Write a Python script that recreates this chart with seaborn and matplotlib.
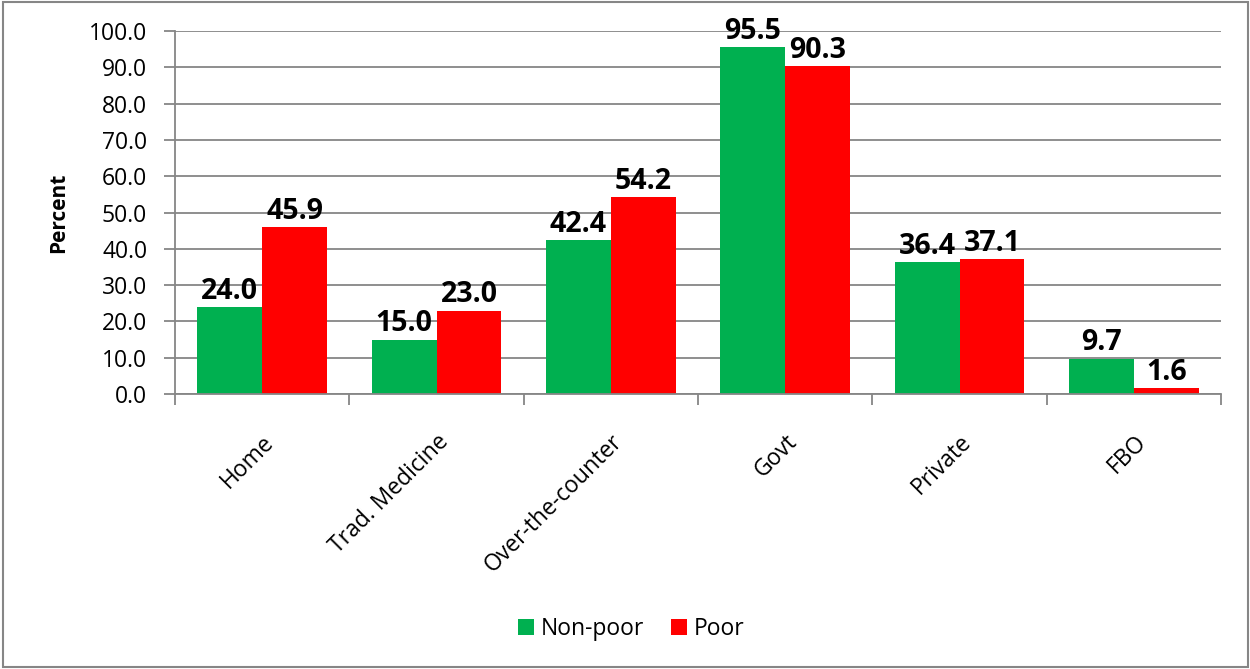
import matplotlib
matplotlib.use("Agg")
import matplotlib.pyplot as plt
import seaborn as sns
import pandas as pd
from matplotlib.patches import Rectangle

categories = ["Home", "Trad. Medicine", "Over-the-counter", "Govt", "Private", "FBO"]
non_poor = [24.0, 15.0, 42.4, 95.5, 36.4, 9.7]
poor = [45.9, 23.0, 54.2, 90.3, 37.1, 1.6]
series = ["Non-poor", "Poor"]
colors = ["#00B050", "#FF0000"]

df = pd.DataFrame({
    "Category": categories * 2,
    "Group": [series[0]] * len(categories) + [series[1]] * len(categories),
    "Value": non_poor + poor,
})

sns.set_theme(style="white")
plt.rcParams["font.family"] = ["Open Sans", "DejaVu Sans"]
plt.rcParams["text.color"] = "black"
plt.rcParams["xtick.color"] = "black"
plt.rcParams["ytick.color"] = "black"

fig = plt.figure(figsize=(12.5, 6.69), dpi=100)
ax = fig.add_axes([0.14, 0.411, 0.8368, 0.5426])

sns.barplot(data=df, x="Category", y="Value", hue="Group", order=categories,
            hue_order=series, palette=colors, width=0.745, saturation=1,
            linewidth=0, edgecolor="none", ax=ax, legend=True)

ax.set_ylim(0, 100)
ax.set_xlim(-0.5, len(categories) - 0.5)
ax.set_yticks(range(0, 101, 10))
ax.set_yticklabels([f"{v:.1f}" for v in range(0, 101, 10)], fontsize=16.5)
ax.yaxis.grid(True, color="#868686", linewidth=1.3)
ax.set_axisbelow(True)
ax.tick_params(axis="y", direction="out", length=8, width=1.3, color="#868686",
               labelcolor="black", pad=12, left=True)

ax.set_xticks(range(len(categories)))
ax.set_xticklabels(categories, rotation=45, ha="right", rotation_mode="anchor", fontsize=16.5)
ax.tick_params(axis="x", which="major", length=0, pad=26, labelcolor="black")
ax.set_xticks([i - 0.5 for i in range(len(categories) + 1)], minor=True)
ax.tick_params(axis="x", which="minor", direction="out", length=8, width=1.3, color="#868686", bottom=True)

for s in ["top", "right"]:
    ax.spines[s].set_visible(False)
for s in ["left", "bottom"]:
    ax.spines[s].set_color("#868686")
    ax.spines[s].set_linewidth(1.3)

ax.set_xlabel("")
ax.set_ylabel("Percent", fontsize=15, fontweight="bold", labelpad=14, color="black")

for cont in ax.containers:
    ax.bar_label(cont, labels=[f"{v:.1f}" for v in cont.datavalues],
                 fontsize=20.5, fontweight="bold", padding=1, color="black")

h, l = ax.get_legend_handles_labels()
ax.get_legend().remove()
fig.legend(h, l, loc="center", bbox_to_anchor=(0.505, 0.06), ncol=2, frameon=False,
           fontsize=16.5, handlelength=0.7, handleheight=0.7, handletextpad=0.3, columnspacing=1.2)

fig.patches.append(Rectangle((0.002, 0.003), 0.996, 0.994, transform=fig.transFigure,
                             fill=False, edgecolor="#868686", linewidth=1.5))

fig.savefig("out.png", dpi=100)
